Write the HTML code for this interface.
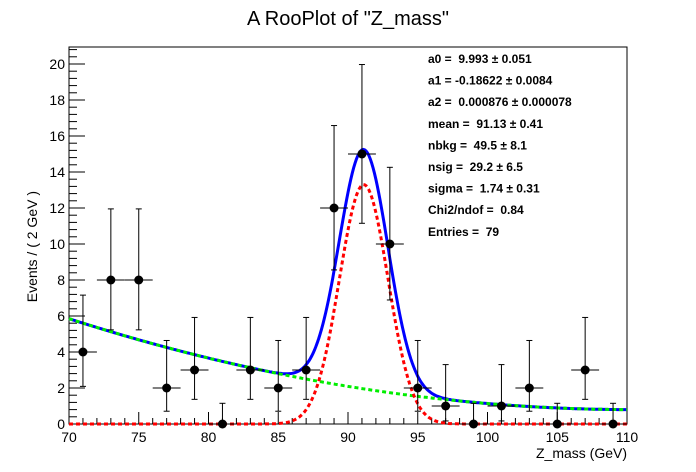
<!DOCTYPE html>
<html><head><meta charset="utf-8"><style>
body{margin:0;background:#fff;}
svg{display:block;font-family:"Liberation Sans",Arial,sans-serif;}
#stats text{white-space:pre;}
</style></head><body>
<svg id="chart" width="696" height="472" viewBox="0 0 696 472">
<rect width="696" height="472" fill="#fff"/>
<text x="348" y="25" font-size="20" text-anchor="middle">A RooPlot of "Z_mass"</text>
<g id="axes"></g>
<g id="curves"></g>
<g id="points"></g>
<g id="stats" font-size="12" font-weight="bold"></g>
<text x="627" y="458" font-size="14" text-anchor="end">Z_mass (GeV)</text>
<text transform="translate(37,191) rotate(-90)" font-size="14" text-anchor="end">Events / ( 2 GeV )</text>
</svg>
<script>
const binCenters=[71,73,75,77,79,81,83,85,87,89,91,93,95,97,99,101,103,105,107,109];
const counts=[4,8,8,2,3,0,3,2,3,12,15,10,2,1,0,1,2,0,3,0];
const errLow=[1.91,2.77,2.77,1.29,1.63,0,1.63,1.29,1.63,3.44,3.85,3.11,1.29,0.83,0,0.83,1.29,0,1.63,0];
const errHigh=[3.16,3.95,3.95,2.64,2.92,1.15,2.92,2.64,2.92,4.58,4.97,4.26,2.64,2.30,1.15,2.30,2.64,1.15,2.92,1.15];
const bkgCoef=[5.85,-0.2496,0.003083];
const sigParams=[13.3,91.13,1.74];
const yTicks=[0,2,4,6,8,10,12,14,16,18,20];
const xTicks=[70,75,80,85,90,95,100,105,110];
const statLines=["a0 =  9.993 \u00b1 0.051","a1 = -0.18622 \u00b1 0.0084","a2 =  0.000876 \u00b1 0.000078","mean =  91.13 \u00b1 0.41","nbkg =  49.5 \u00b1 8.1","nsig =  29.2 \u00b1 6.5","sigma =  1.74 \u00b1 0.31","Chi2/ndof =  0.84","Entries =  79"];
const NS="http://www.w3.org/2000/svg";
const X0=69,X1=627,Y0=424,Y1=47,xmin=70,xmax=110,ymax=20.944;
const sx=v=>X0+(v-xmin)/(xmax-xmin)*(X1-X0);
const sy=v=>Y0-v/ymax*(Y0-Y1);
function mk(tag,attrs,parent){const e=document.createElementNS(NS,tag);for(const k in attrs)e.setAttribute(k,attrs[k]);parent.appendChild(e);return e;}
const axes=document.getElementById('axes');
const frame=mk('rect',{x:X0,y:Y1,width:X1-X0,height:Y0-Y1,fill:'none',stroke:'#000','stroke-width':1},axes);


for(let v=0;v<=ymax;v+=0.4){const y=sy(v);const major=Math.abs(v/2-Math.round(v/2))<1e-6;mk('line',{x1:X0,x2:X0+(major?16:8),y1:y,y2:y,stroke:'#000'},axes);}
yTicks.forEach(t=>{const tx=mk('text',{x:X0-4,y:sy(t)+5,'font-size':14,'text-anchor':'end'},axes);tx.textContent=t;

});
for(let v=xmin;v<=xmax;v+=1){const x=sx(v);const major=v%5===0;mk('line',{x1:x,x2:x,y1:Y0,y2:Y0-(major?12:6),stroke:'#000'},axes);}
xTicks.forEach(t=>{const tx=mk('text',{x:sx(t),y:Y0+18,'font-size':14,'text-anchor':'middle'},axes);tx.textContent=t;

});
const bkg=x=>{const t=x-xmin;return bkgCoef[0]+bkgCoef[1]*t+bkgCoef[2]*t*t;};
const sig=x=>sigParams[0]*Math.exp(-0.5*Math.pow((x-sigParams[1])/sigParams[2],2));
const curves=document.getElementById('curves');
function path(f){let d='';for(let x=xmin;x<=xmax+1e-9;x+=0.1){d+=(d?'L':'M')+sx(x).toFixed(1)+','+sy(f(x)).toFixed(1);}return d;}
const tot=mk('path',{d:path(x=>bkg(x)+sig(x)),fill:'none',stroke:'#0000ff','stroke-width':3},curves);


const bg=mk('path',{d:path(bkg),fill:'none',stroke:'#00ee00','stroke-width':3,'stroke-dasharray':'4,3'},curves);


const sg=mk('path',{d:path(sig),fill:'none',stroke:'#ff0000','stroke-width':3,'stroke-dasharray':'4,3'},curves);


const pts=document.getElementById('points');
binCenters.forEach((c,i)=>{const g=mk('g',{},pts);


const x=sx(c),y=sy(counts[i]);
mk('line',{x1:sx(c-1),x2:sx(c+1),y1:y,y2:y,stroke:'#000'},g);
const yl=sy(counts[i]-errLow[i]),yh=sy(counts[i]+errHigh[i]);
mk('line',{x1:x,x2:x,y1:yl,y2:yh,stroke:'#000'},g);
mk('line',{x1:x-3,x2:x+3,y1:yh,y2:yh,stroke:'#000'},g);
if(errLow[i]>0)mk('line',{x1:x-3,x2:x+3,y1:yl,y2:yl,stroke:'#000'},g);
mk('circle',{cx:x,cy:y,r:4.5,fill:'#000'},g);});
const st=document.getElementById('stats');
statLines.forEach((s,i)=>{const t=mk('text',{x:428,y:63+i*21.6,'xml:space':'preserve'},st);t.textContent=s;

});
</script>
</body></html>
